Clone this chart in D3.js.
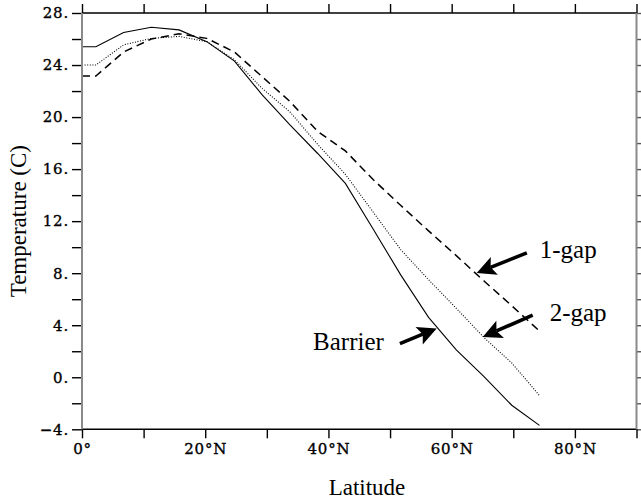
<!DOCTYPE html>
<html>
<head>
<meta charset="utf-8">
<script src="https://cdn.jsdelivr.net/npm/d3@7"></script>
<style>
  html, body { margin: 0; padding: 0; background: #fff; }
  svg { display: block; }
  .tick text { font-family: "DejaVu Serif", serif; font-size: 15px; letter-spacing: 0.8px;
    fill: #000; stroke: #000; stroke-width: 0.35px; }
</style>
</head>
<body>
<div id="chart"></div>
<script>
// latitude grid (deg N) shared by all three runs
const lats = [0, 2.25, 6.75, 11.25, 15.75, 20.25, 24.75, 29.25, 33.75, 38.25,
  42.75, 47.25, 51.75, 56.25, 60.75, 65.25, 69.75, 74.25];

// zonal mean temperature (C)
const barrier = [25.4, 25.4, 26.5, 26.9, 26.7, 25.8, 24.3, 21.7, 19.4, 17.2,
  14.9, 11.4, 7.85, 4.6, 2.1, 0.05, -2.15, -3.7];
const twoGap = [24.0, 24.0, 25.55, 26.05, 26.2, 25.8, 24.4, 22.2, 20.4, 17.9,
  15.6, 12.7, 9.8, 7.5, 5.3, 3.05, 1.1, -1.4];
const oneGap = [23.15, 23.15, 25.0, 26.0, 26.4, 26.05, 25.0, 23.1, 21.2, 18.9,
  17.4, 15.2, 13.2, 11.25, 9.35, 7.4, 5.5, 3.55];

const yTicks = d3.range(-4, 29, 2);
const yLabels = [-4, 0, 4, 8, 12, 16, 20, 24, 28];
const xTicks = d3.range(0, 91, 10);
const xLabels = [0, 20, 40, 60, 80];

// arrows + labels, in data coordinates [lat, temp]
const notes = [
  { text: '1-gap', label: [74.3, 9.15], tail: [72.2, 9.56], tip: [64.06, 8.02] },
  { text: '2-gap', label: [75.9, 4.3], tail: [73.15, 4.77], tip: [65.04, 3.1] },
  { text: 'Barrier', label: [37.5, 2.08], tail: [51.6, 2.59], tip: [57.57, 3.75] }
];

const W = 641, H = 501;
const svg = d3.select('#chart').append('svg').attr('width', W).attr('height', H);

const x = d3.scaleLinear().domain([0, 90]).range([82, 636.5]);
const y = d3.scaleLinear().domain([-4, 28]).range([429.3, 13]);

// --- curves
const line = d3.line().x(d => x(d[0])).y(d => y(d[1]));
const series = [
  { vals: barrier, dash: null, w: 1.1 },
  { vals: twoGap, dash: '1,1.6', w: 1.1 },
  { vals: oneGap, dash: '8,5', w: 1.5 }
];
series.forEach(s => {
  svg.append('path')
    .datum(lats.map((la, i) => [la, s.vals[i]]))
    .attr('d', line)
    .attr('fill', 'none')
    .attr('stroke', '#000')
    .attr('stroke-width', s.w)
    .attr('stroke-dasharray', s.dash);
});

// --- axes
const fmtY = d => yLabels.includes(d) ? (d < 0 ? '\u2212' + (-d) : d) + '.' : '';
const fmtX = d => xLabels.includes(d) ? (d === 0 ? '0\u00b0' : d + '\u00b0N') : '';

const gl = svg.append('g').attr('transform', `translate(${x(0)},0)`)
  .call(d3.axisLeft(y).tickValues(yTicks).tickSize(10).tickPadding(3).tickFormat(fmtY));
const gr = svg.append('g').attr('transform', `translate(${x(90)},0)`)
  .call(d3.axisRight(y).tickValues(yTicks).tickSize(8).tickFormat(''));
const gb = svg.append('g').attr('transform', `translate(0,${y(-4)})`)
  .call(d3.axisBottom(x).tickValues(xTicks).tickSize(9).tickPadding(5).tickFormat(fmtX));
const gt = svg.append('g').attr('transform', `translate(0,${y(28)})`)
  .call(d3.axisTop(x).tickValues(xTicks).tickSize(9).tickFormat(''));

[gl, gr, gb, gt].forEach(g => {
  g.select('.domain').remove();
  g.selectAll('.tick line').attr('stroke', '#000').attr('stroke-width', 1.4);
});
gr.selectAll('.tick line').attr('stroke', '#555');

// frame: top/bottom black, sides gray
svg.append('line').attr('x1', x(0)).attr('x2', x(90)).attr('y1', y(28)).attr('y2', y(28))
  .attr('stroke', '#000').attr('stroke-width', 1.5);
svg.append('line').attr('x1', x(0)).attr('x2', x(90)).attr('y1', y(-4)).attr('y2', y(-4))
  .attr('stroke', '#000').attr('stroke-width', 1.5);
[0, 90].forEach(v => {
  svg.append('line').attr('x1', x(v)).attr('x2', x(v)).attr('y1', y(28)).attr('y2', y(-4))
    .attr('stroke', '#8a8a8a').attr('stroke-width', 2);
});

// --- axis titles
svg.append('text')
  .attr('x', 367).attr('y', 495)
  .attr('text-anchor', 'middle')
  .style('font-family', '"Liberation Serif", "Times New Roman", serif')
  .style('font-size', '23px')
  .text('Latitude');

svg.append('text')
  .attr('transform', `translate(26,${y(12)}) rotate(-90)`)
  .attr('text-anchor', 'middle')
  .style('font-family', '"Liberation Serif", "Times New Roman", serif')
  .style('font-size', '23px')
  .text('Temperature (C)');

// --- annotations
notes.forEach(n => {
  const [tx, ty] = [x(n.tail[0]), y(n.tail[1])];
  const [px, py] = [x(n.tip[0]), y(n.tip[1])];
  const dx = px - tx, dy = py - ty, len = Math.hypot(dx, dy);
  const ux = dx / len, uy = dy / len, nx = -uy, ny = ux;
  const hl = 19, hw = 9.5;
  const bx = px - ux * hl, by = py - uy * hl;
  svg.append('line')
    .attr('x1', tx).attr('y1', ty)
    .attr('x2', bx + ux * 4).attr('y2', by + uy * 4)
    .attr('stroke', '#000').attr('stroke-width', 3.6);
  svg.append('path')
    .attr('d', `M${px},${py} L${bx + nx * hw},${by + ny * hw} L${bx + ux * 4},${by + uy * 4} L${bx - nx * hw},${by - ny * hw} Z`)
    .attr('fill', '#000');
  svg.append('text')
    .attr('x', x(n.label[0])).attr('y', y(n.label[1]))
    .style('font-family', '"Liberation Serif", "Times New Roman", serif')
    .style('font-size', '25px')
    .text(n.text);
});
</script>
</body>
</html>
